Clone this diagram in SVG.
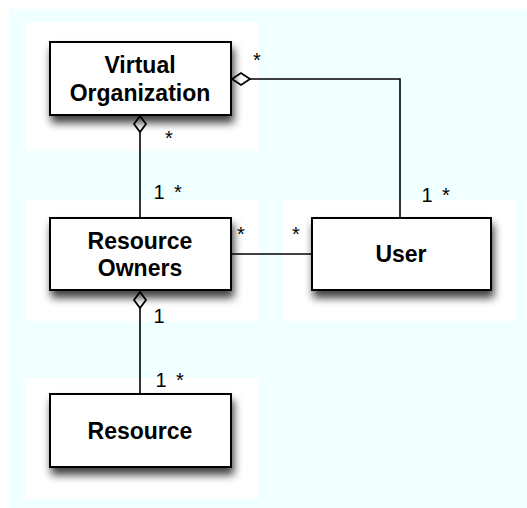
<svg xmlns="http://www.w3.org/2000/svg" width="527" height="508" viewBox="0 0 527 508">
  <defs>
    <filter id="shadow" x="-20%" y="-20%" width="140%" height="160%">
      <feDropShadow dx="2" dy="7" stdDeviation="4" flood-color="#000" flood-opacity="0.75"/>
    </filter>
  </defs>
  <style>
    .panel { fill: #ffffff; }
    .box { fill: #ffffff; stroke: #000; stroke-width: 2; filter: url(#shadow); }
    .name { font-family: "Liberation Sans", Arial, sans-serif; font-weight: bold; font-size: 23px; text-anchor: middle; fill: #000; }
    .mult { font-family: "Liberation Sans", Arial, sans-serif; font-size: 20px; fill: #000; text-anchor: middle; }
    .conn { fill: none; stroke: #000; stroke-width: 1.6; }
    .dia { fill: #ffffff; stroke: #000; stroke-width: 1.8; }
  </style>
  <rect x="9" y="9" width="518" height="499" fill="#f0ffff"/>
  <rect class="panel" x="25" y="22" width="234" height="129"/>
  <rect class="panel" x="25" y="200" width="234" height="121"/>
  <rect class="panel" x="283" y="200" width="233" height="121"/>
  <rect class="panel" x="25" y="378" width="234" height="121"/>

  <g id="connectors">
    <polyline class="conn" points="250,79 400,79 400,218"/>
    <polygon class="dia" points="232,79 241,73 250,79 241,85"/>
    <line class="conn" x1="140" y1="132" x2="140" y2="218"/>
    <polygon class="dia" points="140,116 146,124 140,132 134,124"/>
    <line class="conn" x1="230" y1="254" x2="312" y2="254"/>
    <line class="conn" x1="140" y1="308" x2="140" y2="394"/>
    <polygon class="dia" points="140,292 146,300 140,308 134,300"/>
    <text class="mult" x="257" y="67">*</text>
    <text class="mult" x="169" y="145">*</text>
    <text class="mult" y="199"><tspan x="159">1</tspan><tspan x="178">*</tspan></text>
    <text class="mult" y="202"><tspan x="427">1</tspan><tspan x="446">*</tspan></text>
    <text class="mult" x="241" y="241">*</text>
    <text class="mult" x="296" y="241">*</text>
    <text class="mult" x="159" y="323">1</text>
    <text class="mult" y="387"><tspan x="161">1</tspan><tspan x="180">*</tspan></text>
  </g>

  <g id="virtual-organization">
    <rect class="box" x="50" y="42" width="181" height="73"/>
    <text class="name" x="140" y="73">Virtual</text>
    <text class="name" x="140" y="101">Organization</text>
  </g>
  <g id="resource-owners">
    <rect class="box" x="50" y="218" width="181" height="72"/>
    <text class="name" x="140" y="249">Resource</text>
    <text class="name" x="140" y="276">Owners</text>
  </g>
  <g id="user">
    <rect class="box" x="312" y="218" width="179" height="72"/>
    <text class="name" x="401" y="262">User</text>
  </g>
  <g id="resource">
    <rect class="box" x="50" y="394" width="181" height="73"/>
    <text class="name" x="140" y="439">Resource</text>
  </g>
</svg>
